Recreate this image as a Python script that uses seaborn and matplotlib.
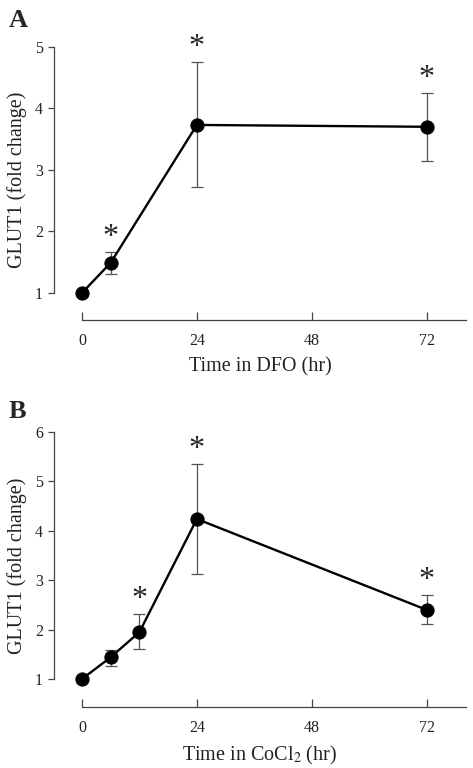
import numpy as np
import matplotlib
matplotlib.use("Agg")
import matplotlib.pyplot as plt
import pandas as pd
import seaborn as sns

# panel A - DFO
dfo_time = [0, 6, 24, 72]
dfo_mean = [1.0, 1.49, 3.73, 3.70]
dfo_upper = [1.0, 1.66, 4.75, 4.25]
dfo_lower = [1.0, 1.31, 2.72, 3.15]
dfo_star = [False, True, True, True]

# panel B - CoCl2
co_time = [0, 6, 12, 24, 72]
co_mean = [1.0, 1.44, 1.95, 4.24, 2.40]
co_upper = [1.0, 1.59, 2.32, 5.35, 2.71]
co_lower = [1.0, 1.27, 1.60, 3.13, 2.12]
co_star = [False, False, True, True, True]

xticks = [0, 24, 48, 72]

sns.set_style("ticks")
plt.rcParams['font.family'] = ['Liberation Serif', 'DejaVu Serif']
plt.rcParams['mathtext.fontset'] = 'stix'

fig = plt.figure(figsize=(4.73, 7.68), dpi=100)


def draw_panel(ax, t, m, up, lo, star, ylim, ymax_tick, xlabel):
    df = pd.DataFrame({'time': t, 'fold': m})
    yerr = [np.array(m) - np.array(lo), np.array(up) - np.array(m)]
    ax.errorbar(t, m, yerr=yerr, fmt='none', ecolor='#555555', elinewidth=0.9,
                capsize=4.5, capthick=0.9, zorder=2)
    sns.lineplot(data=df, x='time', y='fold', ax=ax, color='black', lw=1.7,
                 marker='o', markersize=9.5, markeredgecolor='black', zorder=3)
    for ti, ui, s in zip(t, up, star):
        if s:
            ax.text(ti, ui, '*', ha='center', va='bottom', fontsize=23,
                    clip_on=False)
    ax.set_xlim(-5.83, 80.2)
    ax.set_ylim(*ylim)
    ax.set_xticks(xticks)
    ax.set_yticks(range(1, ymax_tick + 1))
    ax.spines['left'].set_bounds(1, ymax_tick)
    ax.spines['bottom'].set_bounds(0, 80.2)
    for s in ['top', 'right']:
        ax.spines[s].set_visible(False)
    for s in ['left', 'bottom']:
        ax.spines[s].set_color('#444444')
        ax.spines[s].set_linewidth(0.9)
    ax.tick_params(axis='x', direction='in', length=6, width=0.9, colors='#444444',
                   labelcolor='#222222', labelsize=11.5, pad=9)
    ax.tick_params(axis='y', direction='out', length=4, width=0.9, colors='#444444',
                   labelcolor='#222222', labelsize=11.5, pad=4)
    ax.set_xlabel(xlabel, fontsize=14.5, color='#222222', labelpad=6)
    ax.set_ylabel('GLUT1 (fold change)', fontsize=14.5, color='#222222', labelpad=6)


axA = fig.add_axes([0.1142, 0.5833, 0.871, 0.3646])
draw_panel(axA, dfo_time, dfo_mean, dfo_upper, dfo_lower, dfo_star,
           (0.56, 5.11), 5, 'Time in DFO (hr)')

axB = fig.add_axes([0.1142, 0.0794, 0.871, 0.367])
draw_panel(axB, co_time, co_mean, co_upper, co_lower, co_star,
           (0.433, 6.14), 6, r'Time in CoCl$_2$ (hr)')

fig.text(9 / 473, 1 - 27 / 768, 'A', fontsize=19, fontweight='bold',
         ha='left', va='baseline')
fig.text(9 / 473, 1 - 418 / 768, 'B', fontsize=19, fontweight='bold',
         ha='left', va='baseline')

fig.savefig('out.png', dpi=100)
